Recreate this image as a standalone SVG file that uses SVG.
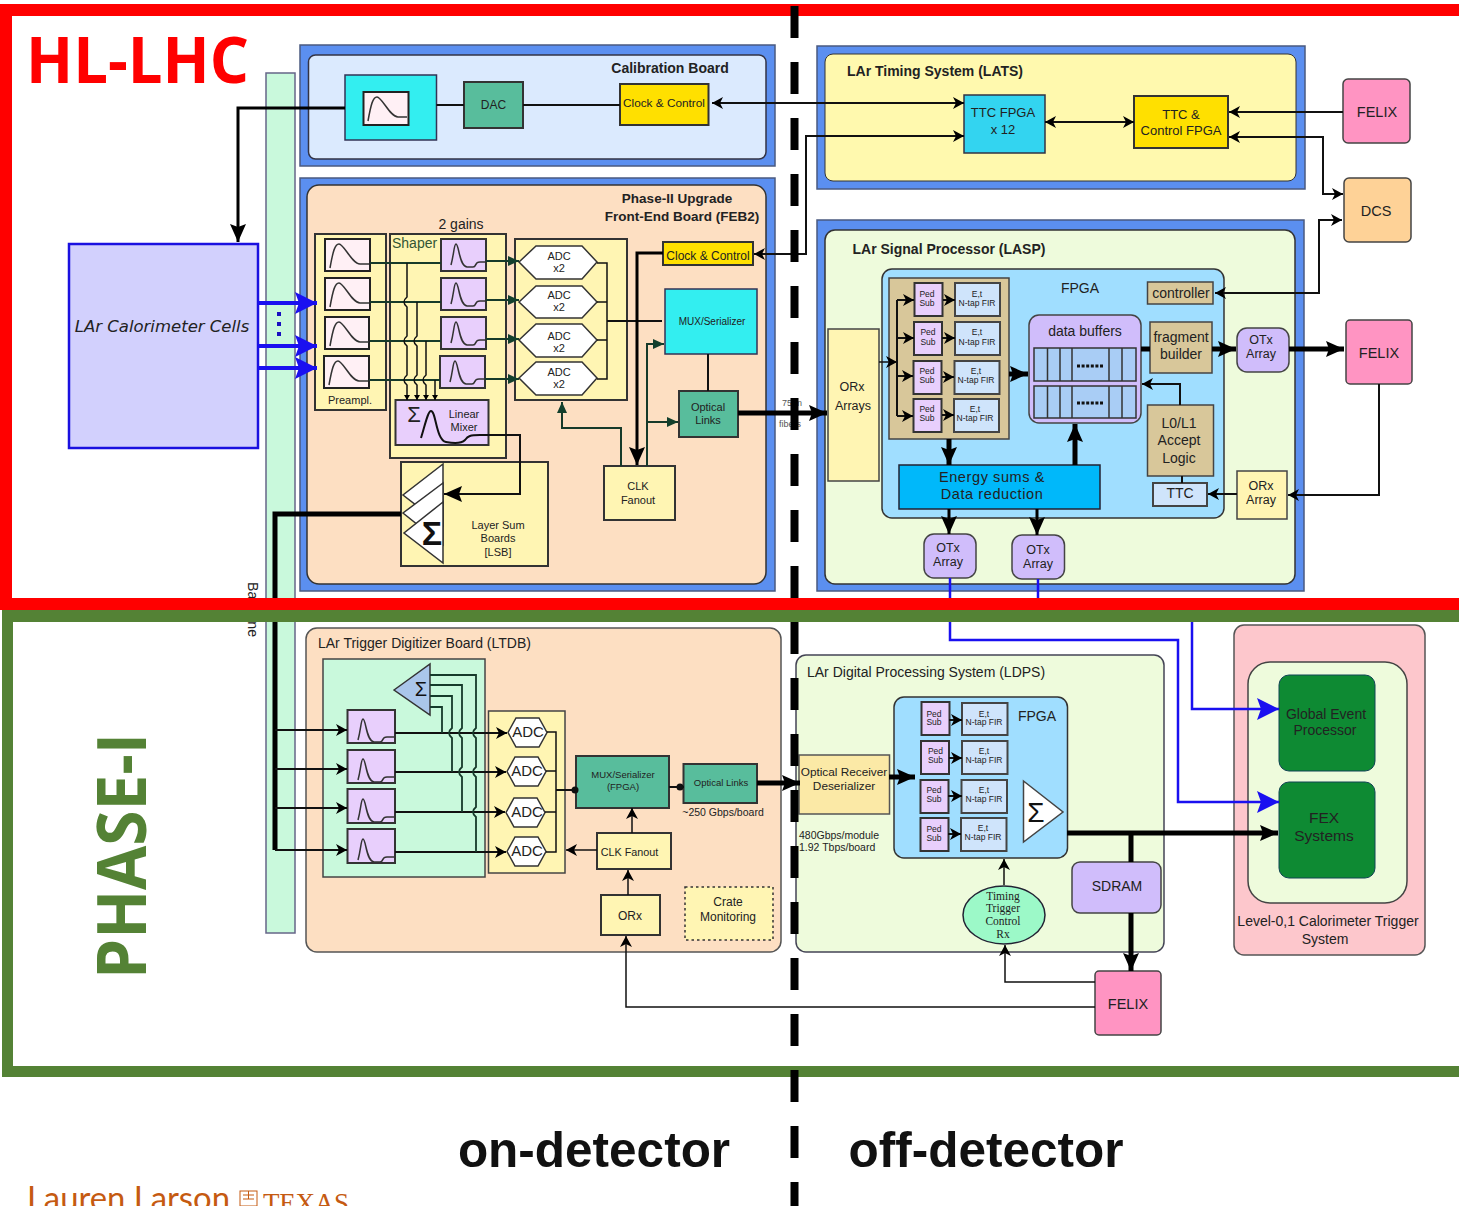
<svg xmlns="http://www.w3.org/2000/svg" width="1459" height="1206" viewBox="0 0 1459 1206">
<style>
text{font-family:"Liberation Sans",Arial,sans-serif;fill:#222;text-anchor:middle}
.l{text-anchor:start}
.b{font-weight:bold}
.box{stroke:#333;stroke-width:2}
.y{fill:#fff5b3}
.pk{fill:#fff0f5;stroke:#222;stroke-width:2}
.pu{fill:#e8cffc;stroke:#333;stroke-width:2}
.gn{fill:#58bd9c;stroke:#333;stroke-width:2}
.cy{fill:#33eef0;stroke:#335;stroke-width:1.5}
.go{fill:#ffe000;stroke:#333;stroke-width:2}
.hw{fill:#fff;stroke:#333;stroke-width:1.5}
.fe{fill:#ff94c2;stroke:#444;stroke-width:1.5}
.ot{fill:#d0bdfb;stroke:#444;stroke-width:1.5}
.tan{fill:#d8c79a;stroke:#444;stroke-width:1.5}
.ef{fill:#cfe4fb;stroke:#444;stroke-width:2}
.fp{fill:#a0deff;stroke:#333;stroke-width:1.5}
.bo{fill:#5b8ff0;stroke:#4a5a80;stroke-width:1.5}
.w{fill:none;stroke:#111;stroke-width:1.5}
.w2{fill:none;stroke:#111;stroke-width:2}
.t3{fill:none;stroke:#000;stroke-width:3}
.t5{fill:none;stroke:#000;stroke-width:5}
.gl{fill:none;stroke:#163a2a;stroke-width:1.8}
.bl{fill:none;stroke:#1a10f0}
.pulse{fill:none;stroke:#333;stroke-width:1.5}
.cell{fill:#a9cdf5;stroke:#333;stroke-width:1.5}
</style>
<defs>
<marker id="a" markerUnits="userSpaceOnUse" markerWidth="14" markerHeight="14" refX="11" refY="6" orient="auto-start-reverse"><path d="M0,0L11,6L0,12L3,6Z" fill="#000"/></marker>
<marker id="s" markerUnits="userSpaceOnUse" markerWidth="8" markerHeight="8" refX="5" refY="3" orient="auto"><path d="M0,0L5,3L0,6Z" fill="#000"/></marker>
<marker id="m" markerUnits="userSpaceOnUse" markerWidth="22" markerHeight="18" refX="18" refY="8" orient="auto-start-reverse"><path d="M0,0L18,8L0,16L3,8Z" fill="#000"/></marker>
<marker id="g" markerUnits="userSpaceOnUse" markerWidth="14" markerHeight="14" refX="11" refY="6" orient="auto"><path d="M0,1L11,6L0,11Z" fill="#123f2c"/></marker>
<marker id="bm" markerUnits="userSpaceOnUse" markerWidth="26" markerHeight="24" refX="22" refY="11" orient="auto"><path d="M0,0L22,11L0,22L4,11Z" fill="#1a10f0"/></marker>
<path id="pre" class="pulse" d="M5,28C8,11 10,4 14,4C19,4 27,24 35,24L44,24"/>
<path id="sh" class="pulse" d="M10,26C13,15 13,5 15,5C18,5 18,27 26,28L32,28C36,28 33,23 39,23L46,23"/>
</defs>

<rect id="backplane" x="266" y="73" width="29" height="860" fill="#c9f9dc" stroke="#668" stroke-width="1.5"/>
<text transform="translate(248,582) rotate(90)" class="l" font-size="14" textLength="55">Baseline</text>

<g id="calo"><rect x="69" y="244" width="189" height="204" fill="#d2d0fd" stroke="#1a10e0" stroke-width="2.5"/><text x="162" y="332" font-size="16.500" font-style="italic" style="font-family:'DejaVu Sans',sans-serif">LAr Calorimeter Cells</text></g>

<g id="calibration-board">
<rect class="bo" x="300" y="45" width="475" height="121"/>
<rect x="308.500" y="55" width="457.500" height="104" rx="7" fill="#dbeafe" stroke="#334" stroke-width="1.5"/>
<text x="670" y="73" font-size="14" class="b">Calibration Board</text>
<rect class="cy" x="345" y="75" width="91.500" height="65"/>
<rect class="pk" x="363.500" y="92" width="45" height="33"/><use href="#pre" x="363" y="93"/>
<rect class="gn" x="464" y="82" width="59" height="46"/><text x="493.500" y="109" font-size="12">DAC</text>
<rect class="go" x="620" y="84" width="88.500" height="41"/><text x="664" y="107" font-size="11.800">Clock &amp; Control</text>
</g>

<g id="feb2">
<rect class="bo" x="300" y="178" width="475" height="413"/>
<rect x="307" y="185" width="459" height="399" rx="12" fill="#fddfc2" stroke="#333" stroke-width="1.5"/>
<text x="677" y="203" font-size="13.500" class="b">Phase-II Upgrade</text>
<text x="682" y="221" font-size="13.500" class="b">Front-End Board (FEB2)</text>
<text x="461" y="229" font-size="14">2 gains</text>
<g id="preamp"><rect class="box y" x="315" y="234" width="71" height="176"/><text x="350" y="404" font-size="11" fill="#353">Preampl.</text>
<rect class="pk" x="325" y="239" width="45" height="32"/><use href="#pre" x="325" y="240"/>
<rect class="pk" x="325" y="278" width="45" height="32"/><use href="#pre" x="325" y="279"/>
<rect class="pk" x="325" y="317" width="44" height="32"/><use href="#pre" x="325" y="318"/>
<rect class="pk" x="324" y="356" width="45" height="32"/><use href="#pre" x="324" y="357"/></g>
<g id="shaper"><rect class="box y" x="390" y="234" width="116" height="224"/><text class="l" x="392" y="248" font-size="14" style="fill:#353">Shaper</text>
<rect class="pu" x="441" y="239" width="45" height="32"/><use href="#sh" x="441" y="239"/>
<rect class="pu" x="441" y="278" width="45" height="32"/><use href="#sh" x="441" y="278"/>
<rect class="pu" x="441" y="317" width="45" height="32"/><use href="#sh" x="441" y="317"/>
<rect class="pu" x="440" y="356" width="45" height="32"/><use href="#sh" x="440" y="356"/></g>
<g id="mixer"><rect class="pu" x="395.500" y="400" width="93" height="45"/><path class="w2" d="M421,438C425,425 428,411 431,411C436,411 436,440 446,442C456,444 462,443 465,440C468,436 470,435 480,435"/>
<text x="414" y="422" font-size="22" style="fill:#222">Σ</text><text x="464" y="418" font-size="11">Linear</text><text x="464" y="431" font-size="11">Mixer</text></g>
<g id="adcs"><rect class="box y" x="515" y="239" width="112" height="161"/>
<path class="hw" d="M519,262L536,246H582L597,262L582,279H536Z"/><text x="559" y="260" font-size="11">ADC</text><text x="559" y="272" font-size="11">x2</text>
<path class="hw" d="M519,302L536,286H582L597,302L582,318H536Z"/><text x="559" y="299" font-size="11">ADC</text><text x="559" y="311" font-size="11">x2</text>
<path class="hw" d="M519,340L536,324H582L597,340L582,357H536Z"/><text x="559" y="340" font-size="11">ADC</text><text x="559" y="352" font-size="11">x2</text>
<path class="hw" d="M519,378L536,362H582L597,378L582,395H536Z"/><text x="559" y="376" font-size="11">ADC</text><text x="559" y="388" font-size="11">x2</text></g>
<g id="lsb"><rect class="box y" x="401" y="462" width="147" height="104"/>
<path class="hw" d="M443,464L403,495L443,526Z"/><path class="hw" d="M443,483L403,513L443,545Z"/><path class="hw" d="M443,502L404,533L443,563Z"/>
<text x="432" y="545" font-size="34" class="b" style="fill:#111">Σ</text>
<text x="498" y="529" font-size="11">Layer Sum</text><text x="498" y="542" font-size="11">Boards</text><text x="498" y="556" font-size="11">[LSB]</text></g>
<g id="feb-clock"><rect class="go" x="663" y="242" width="90" height="23"/><text x="708" y="260" font-size="12">Clock &amp; Control</text></g>
<g id="feb-mux"><rect class="cy" x="665" y="289" width="92" height="65"/><text x="712" y="325" font-size="10">MUX/Serializer</text></g>
<g id="feb-optical"><rect class="gn" x="679" y="391" width="59" height="46"/><text x="708" y="411" font-size="11">Optical</text><text x="708" y="424" font-size="11">Links</text></g>
<g id="feb-clk"><rect class="box y" x="604" y="466" width="71" height="54"/><text x="638" y="490" font-size="11">CLK</text><text x="638" y="504" font-size="11">Fanout</text></g>
</g>

<g id="lats">
<rect class="bo" x="817" y="46" width="488" height="143"/>
<rect x="825" y="54" width="471" height="127" rx="8" fill="#fff9ae" stroke="#333" stroke-width="1"/>
<text x="935" y="76" font-size="14" class="b">LAr Timing System (LATS)</text>
<g id="ttc-fpga"><rect x="964" y="95" width="81" height="58" fill="#33d4f0" stroke="#334" stroke-width="1.500"/><text x="1003" y="117" font-size="13">TTC FPGA</text><text x="1003" y="134" font-size="13">x 12</text></g>
<g id="ttc-control"><rect class="go" x="1134" y="96" width="94" height="52"/><text x="1181" y="119" font-size="13">TTC &amp;</text><text x="1181" y="135" font-size="13">Control FPGA</text></g>
</g>

<g id="felix-top"><rect class="fe" x="1343" y="79" width="67" height="64" rx="5"/><text x="1377" y="117" font-size="14.500">FELIX</text></g>
<g id="dcs"><rect x="1344" y="178" width="67" height="64" rx="5" fill="#fed297" stroke="#444" stroke-width="1.500"/><text x="1376" y="216" font-size="14.500">DCS</text></g>

<g id="lasp">
<rect class="bo" x="817" y="220" width="487" height="371"/>
<rect x="825" y="230" width="470" height="354" rx="10" fill="#eefbdc" stroke="#333" stroke-width="1.5"/>
<text x="949" y="254" font-size="14" class="b">LAr Signal Processor (LASP)</text>
<g id="orx-arrays"><rect class="y" stroke="#444" stroke-width="1.5" x="828" y="329" width="51" height="152"/><text x="852" y="391" font-size="12.500">ORx</text><text x="853" y="410" font-size="12.500">Arrays</text></g>
<g id="lasp-fpga"><rect class="fp" x="882" y="269" width="342" height="249" rx="10"/><text x="1080" y="293" font-size="14">FPGA</text>
<rect class="tan" x="889" y="278" width="120" height="161"/>
<g font-size="8.500"><rect class="pu" x="914.500" y="283" width="28" height="33"/><text x="927" y="297">Ped</text><text x="927" y="306">Sub</text>
<rect class="ef" x="955" y="283" width="45" height="33"/><text x="977" y="297">E,t</text><text x="977" y="306">N-tap FIR</text>
<rect class="pu" x="914" y="322" width="28" height="33"/><text x="928" y="335">Ped</text><text x="928" y="345">Sub</text>
<rect class="ef" x="955" y="322" width="45" height="33"/><text x="977" y="335">E,t</text><text x="977" y="345">N-tap FIR</text>
<rect class="pu" x="913.500" y="361" width="28" height="33"/><text x="927" y="374">Ped</text><text x="927" y="383">Sub</text>
<rect class="ef" x="954.500" y="361" width="45" height="33"/><text x="976" y="374">E,t</text><text x="976" y="383">N-tap FIR</text>
<rect class="pu" x="913.500" y="399" width="28" height="33"/><text x="927" y="412">Ped</text><text x="927" y="421">Sub</text>
<rect class="ef" x="954" y="399" width="45" height="33"/><text x="975" y="412">E,t</text><text x="975" y="421">N-tap FIR</text></g>
<rect class="tan" x="1147.500" y="282" width="65.500" height="22"/><text x="1181" y="298" font-size="14">controller</text>
<g id="data-buffers"><rect class="ot" x="1029" y="315" width="112" height="108" rx="10"/><text x="1085" y="336" font-size="14">data buffers</text>
<path class="cell" d="M1034,348H1136V381H1034ZM1047.500,348V381M1060,348V381M1072,348V381M1109,348V381M1122,348V381"/>
<path class="cell" d="M1034,386H1136V418H1034ZM1047.500,386V418M1060,386V418M1072,386V418M1109,386V418M1122,386V418"/>
<path d="M1077,366H1104M1077,403H1104" stroke="#111" stroke-width="3" stroke-dasharray="3 1.600"/></g>
<g id="fragment"><rect class="tan" x="1150" y="322" width="62" height="51"/><text x="1181" y="342" font-size="14">fragment</text><text x="1181" y="359" font-size="14">builder</text></g>
<g id="l0l1"><rect class="tan" x="1147.500" y="405" width="66" height="71"/><text x="1179" y="428" font-size="14">L0/L1</text><text x="1179" y="445" font-size="14">Accept</text><text x="1179" y="463" font-size="14">Logic</text></g>
<g id="ttc"><rect class="ef" x="1153" y="483" width="54" height="23" stroke-width="1.5"/><text x="1180" y="498" font-size="14">TTC</text></g>
<g id="energy"><rect x="899" y="465" width="201" height="44" fill="#00b8fa" stroke="#223" stroke-width="1.5"/><text x="992" y="482" font-size="14.500" style="letter-spacing:.6px">Energy sums &amp;</text><text x="992" y="499" font-size="14.500" style="letter-spacing:.6px">Data reduction</text></g>
</g>
<g id="otx-r"><rect class="ot" x="1237" y="328" width="52" height="44" rx="10"/><text x="1261" y="344" font-size="12.500">OTx</text><text x="1261" y="358" font-size="12.500">Array</text></g>
<g id="orx-r"><rect class="y" stroke="#444" stroke-width="1.5" x="1237" y="471" width="50" height="48"/><text x="1261" y="490" font-size="12.500">ORx</text><text x="1261" y="504" font-size="12.500">Array</text></g>
<g id="otx-a"><rect class="ot" x="924" y="534" width="52" height="44" rx="10"/><text x="948" y="552" font-size="12.500">OTx</text><text x="948" y="566" font-size="12.500">Array</text></g>
<g id="otx-b"><rect class="ot" x="1012" y="535" width="52.500" height="44" rx="10"/><text x="1038" y="554" font-size="12.500">OTx</text><text x="1038" y="568" font-size="12.500">Array</text></g>
</g>
<g id="felix-lasp"><rect class="fe" x="1346" y="320" width="66" height="64" rx="4"/><text x="1379" y="358" font-size="14.500">FELIX</text></g>

<g id="ltdb">
<rect x="306" y="628" width="475" height="324" rx="11" fill="#fddfc2" stroke="#555" stroke-width="1.5"/>
<text class="l" x="318" y="648" font-size="14">LAr Trigger Digitizer Board (LTDB)</text>
<rect x="323" y="659" width="162" height="218" fill="#c9f9dc" stroke="#444" stroke-width="1.5"/>
<g id="ltdb-sum"><path d="M394,690L430,664V715Z" fill="#aac6ea" stroke="#333" stroke-width="1.5"/><text x="421" y="696" font-size="20" style="fill:#111">Σ</text></g>
<rect class="pu" x="347.500" y="710" width="47.500" height="33"/><use href="#sh" x="348" y="714"/>
<rect class="pu" x="347.500" y="750" width="47.500" height="33"/><use href="#sh" x="348" y="754"/>
<rect class="pu" x="347.500" y="789" width="47.500" height="34"/><use href="#sh" x="348" y="794"/>
<rect class="pu" x="347.500" y="829" width="47.500" height="34"/><use href="#sh" x="348" y="834"/>
<rect class="y" stroke="#444" stroke-width="1.5" x="488.500" y="711" width="76.500" height="162"/>
<g font-size="15"><path class="hw" d="M508,732.500L516,718H539L547,732.500L539,747H516Z"/><text x="528" y="737">ADC</text>
<path class="hw" d="M507,771.500L515,757H538L546,771.500L538,786H515Z"/><text x="527" y="776">ADC</text>
<path class="hw" d="M506,812.500L514,798H537L545,812.500L537,827H514Z"/><text x="527" y="817">ADC</text>
<path class="hw" d="M507,851.500L515,837H538L546,851.500L538,866H515Z"/><text x="527" y="856">ADC</text></g>
<g id="ltdb-mux"><rect class="gn" x="576" y="756" width="93" height="52"/><text x="623" y="778" font-size="9.500">MUX/Serializer</text><text x="623" y="790" font-size="9.500">(FPGA)</text></g>
<g id="ltdb-opt"><rect class="gn" x="683.500" y="764" width="73.500" height="39"/><text x="721" y="786" font-size="9.500">Optical Links</text></g>
<text x="723" y="816" font-size="10.500">~250 Gbps/board</text>
<g id="ltdb-clk"><rect class="y" stroke="#333" stroke-width="2" x="597" y="833" width="74" height="36"/><text x="629.500" y="856" font-size="10.800">CLK Fanout</text></g>
<g id="ltdb-orx"><rect class="y" stroke="#333" stroke-width="2" x="601" y="895" width="59" height="40"/><text x="630" y="920" font-size="12">ORx</text></g>
<g id="crate"><rect class="y" stroke="#333" stroke-width="1.5" stroke-dasharray="2.500 3" x="685" y="887" width="88" height="53"/><text x="728" y="906" font-size="12">Crate</text><text x="728" y="921" font-size="12">Monitoring</text></g>
</g>

<g id="ldps">
<rect x="796" y="655" width="368" height="297" rx="10" fill="#eefbdc" stroke="#445" stroke-width="1.5"/>
<text class="l" x="807" y="677" font-size="14">LAr Digital Processing System (LDPS)</text>
<g id="ldps-fpga"><rect class="fp" x="894" y="697" width="173.500" height="161" rx="10"/><text x="1037" y="721" font-size="14">FPGA</text>
<g font-size="8.500"><rect class="pu" x="921.500" y="702" width="28" height="33"/><text x="934" y="717">Ped</text><text x="934" y="725">Sub</text>
<rect class="ef" x="962" y="703" width="45.500" height="32"/><text x="984" y="717">E,t</text><text x="984" y="725">N-tap FIR</text>
<rect class="pu" x="921" y="741" width="28" height="33"/><text x="935.500" y="754">Ped</text><text x="935.500" y="763">Sub</text>
<rect class="ef" x="962" y="741" width="45.500" height="33"/><text x="984" y="754">E,t</text><text x="984" y="763">N-tap FIR</text>
<rect class="pu" x="920.500" y="780" width="28" height="33"/><text x="934" y="793">Ped</text><text x="934" y="802">Sub</text>
<rect class="ef" x="961.500" y="780" width="45.500" height="33"/><text x="984" y="793">E,t</text><text x="984" y="802">N-tap FIR</text>
<rect class="pu" x="920.500" y="818" width="28" height="33"/><text x="934" y="832">Ped</text><text x="934" y="841">Sub</text>
<rect class="ef" x="961" y="818" width="45.500" height="33"/><text x="983" y="831">E,t</text><text x="983" y="840">N-tap FIR</text></g>
<path d="M1023.500,781L1063,812L1023.500,842Z" fill="#fff" stroke="#444" stroke-width="1.500"/><text x="1036" y="822" font-size="28" style="fill:#111">Σ</text></g>
<g id="ldps-optical"><rect class="y" stroke="#555" stroke-width="1.5" x="799" y="755" width="90.500" height="59" style="fill:#fbe9a6"/><text x="844" y="776" font-size="11.800">Optical Receiver</text><text x="844" y="790" font-size="11.800">Deserializer</text></g>
<text class="l" x="799" y="839" font-size="10.500">480Gbps/module</text><text class="l" x="799" y="851" font-size="10.500">1.92 Tbps/board</text>
<g id="timing"><ellipse cx="1004" cy="915" rx="41" ry="29" fill="#9cf9c8" stroke="#223" stroke-width="1.500"/>
<g font-size="11.500"><text x="1003" y="900" style="font-family:'Liberation Serif',serif">Timing</text><text x="1003" y="912" style="font-family:'Liberation Serif',serif">Trigger</text><text x="1003" y="925" style="font-family:'Liberation Serif',serif">Control</text><text x="1003" y="938" style="font-family:'Liberation Serif',serif">Rx</text></g></g>
<g id="sdram"><rect class="ot" x="1072" y="862" width="89" height="51" rx="8"/><text x="1117" y="891" font-size="14">SDRAM</text></g>
</g>
<g id="felix-ldps"><rect class="fe" x="1095" y="971" width="66" height="64" rx="4"/><text x="1128" y="1009" font-size="14.500">FELIX</text></g>

<g id="trigger">
<rect x="1234" y="625" width="191" height="330" rx="10" fill="#fdc7cc" stroke="#555" stroke-width="1.5"/>
<rect x="1248" y="662" width="159" height="241" rx="22" fill="#eefbdc" stroke="#444" stroke-width="1.5"/>
<g id="global"><rect x="1279" y="675" width="96" height="96" rx="10" fill="#0e8a33" stroke="#145" stroke-width="1"/><text x="1326" y="719" font-size="14">Global Event</text><text x="1325" y="735" font-size="14">Processor</text></g>
<g id="fex"><rect x="1279" y="782" width="96" height="96" rx="10" fill="#0e8a33" stroke="#145" stroke-width="1"/><text x="1324" y="823" font-size="15.500">FEX</text><text x="1324" y="841" font-size="15.500">Systems</text></g>
<text x="1328" y="926" font-size="14">Level-0,1 Calorimeter Trigger</text><text x="1325" y="944" font-size="14">System</text>
</g>

<g id="connectors">
<path class="t3" d="M345,108H238V242" marker-end="url(#m)"/>
<path class="w2" d="M436.500,105H464M523,105H620"/>
<path class="w2" d="M964,103H712" marker-start="url(#a)" marker-end="url(#a)"/>
<path class="w2" d="M754,254H806V136H964" marker-start="url(#a)" marker-end="url(#a)"/>
<path class="w2" d="M1045,122H1134" marker-start="url(#a)" marker-end="url(#a)"/>
<path class="w2" d="M1343,112H1229" marker-end="url(#a)"/>
<path class="w2" d="M1229,137H1323V194H1343" marker-start="url(#a)" marker-end="url(#a)"/>
<path class="w2" d="M1215,293H1319V220H1342" marker-start="url(#a)" marker-end="url(#a)"/>
<path class="bl" stroke-width="4" d="M258,303H317" marker-end="url(#bm)"/><path class="bl" stroke-width="4" d="M258,346H317" marker-end="url(#bm)"/><path class="bl" stroke-width="4" d="M258,368H317" marker-end="url(#bm)"/>
<path d="M277,312h4v4h-4zM277,322h4v4h-4zM277,332h4v4h-4z" fill="#1a10c0"/>
<g id="feb-wires">
<path class="gl" d="M370,263H441M486,261H519" marker-end="url(#g)"/>
<path class="gl" d="M370,302H441M486,300H519" marker-end="url(#g)"/>
<path class="gl" d="M370,341H441M486,339H519" marker-end="url(#g)"/>
<path class="gl" d="M369,380H440M485,379H519" marker-end="url(#g)"/>
<path class="w" d="M407,263V297Q401,302 407,307V336Q401,341 407,346V375Q401,380 407,385V400" marker-end="url(#s)"/>
<path class="w" d="M417,302V336Q411,341 417,346V375Q411,380 417,385V400" marker-end="url(#s)"/>
<path class="w" d="M426,341V375Q420,380 426,385V400" marker-end="url(#s)"/>
<path class="w" d="M435,380V400" marker-end="url(#s)"/>
<path class="w" d="M597,263H607V379H597M597,302H607M597,340H607"/>
<path class="w2" d="M607,321H662"/>
<path class="w2" d="M480,435H520V494H444" marker-end="url(#m)"/>
<path class="t3" d="M663,253H637V465" marker-end="url(#m)"/>
<path class="gl" d="M621,466V428H562V402" marker-end="url(#g)" style="stroke-width:2"/>
<path class="gl" d="M647,466V344H664" marker-end="url(#g)" style="stroke-width:2"/>
<path class="gl" d="M647,422H678" marker-end="url(#g)" style="stroke-width:2"/>
<path class="w2" d="M708,354V391"/>
<path class="t5" d="M738,413H827" marker-end="url(#m)"/>
<path class="t5" d="M401,514H275V850"/>
</g>
<text x="792" y="406" font-size="9" style="fill:#555">75 m</text><text x="790" y="427" font-size="9" style="fill:#555">fibers</text>
<g id="lasp-wires">
<path class="w" d="M879,362H897" marker-end="url(#a)"/>
<path class="w2" d="M897,300V416"/>
<path class="w2" d="M897,300H914" marker-end="url(#a)"/><path class="w2" d="M897,338H914" marker-end="url(#a)"/><path class="w2" d="M897,376H913" marker-end="url(#a)"/><path class="w2" d="M897,416H913" marker-end="url(#a)"/>
<path class="w2" d="M943,300H955" marker-end="url(#a)"/><path class="w2" d="M942,338H955" marker-end="url(#a)"/><path class="w2" d="M942,377H954" marker-end="url(#a)"/><path class="w2" d="M942,415H954" marker-end="url(#a)"/>
<path class="t5" d="M1009,374H1028" marker-end="url(#m)"/>
<path class="t5" d="M949,439V465" marker-end="url(#m)"/>
<path class="t5" d="M1075,465V424" marker-end="url(#m)"/>
<path class="t3" d="M949,509V534" marker-end="url(#m)"/>
<path class="t3" d="M1037,509V535" marker-end="url(#m)"/>
<path class="t5" d="M1141,349H1150M1212,349H1236" marker-end="url(#m)"/>
<path class="t5" d="M1289,349H1344" marker-end="url(#m)"/>
<path class="w2" d="M1180,405V384H1142" marker-end="url(#a)"/>
<path class="w2" d="M1182,476V483"/>
<path class="w2" d="M1237,494H1208" marker-end="url(#a)"/>
<path class="w2" d="M1379,384V495H1288" marker-end="url(#a)"/>
</g>
<g id="ltdb-wires">
<path class="w2" d="M275,730H347" marker-end="url(#a)"/><path class="w2" d="M275,769H347" marker-end="url(#a)"/><path class="w2" d="M275,808H347" marker-end="url(#a)"/><path class="w2" d="M275,850H347" marker-end="url(#a)"/>
<path class="w2" d="M395,733H507" marker-end="url(#a)"/><path class="w2" d="M395,772H506" marker-end="url(#a)"/><path class="w2" d="M395,812H505" marker-end="url(#a)"/><path class="w2" d="M395,852H506" marker-end="url(#a)"/>
<path class="gl" d="M430,675H476V728Q470,733 476,738V767Q470,772 476,777V807Q470,812 476,817V852"/>
<path class="gl" d="M430,685H462V728Q456,733 462,738V767Q456,772 462,777V812"/>
<path class="gl" d="M430,696H452V728Q446,733 452,738V772"/>
<path class="gl" d="M430,707H442V733"/>
<path class="w" d="M547,732H556V852H546M546,771H556M545,812H556"/>
<path class="w2" d="M556,790H576M669,787H684"/>
<circle cx="575" cy="790" r="3.500" fill="#111"/><circle cx="680" cy="787" r="3.500" fill="#111"/>
<path class="t5" d="M757,783H800" marker-end="url(#m)"/>
<path class="w" d="M632,833V808" marker-end="url(#a)"/>
<path class="w" d="M597,850H566" marker-end="url(#a)"/>
<path class="w" d="M628,895V870" marker-end="url(#a)"/>
<path class="w" d="M1095,1007H626V936" marker-end="url(#a)"/>
</g>
<g id="ldps-wires">
<path class="w2" d="M949,720H962" marker-end="url(#a)"/><path class="w2" d="M949,758H962" marker-end="url(#a)"/><path class="w2" d="M948,796H962" marker-end="url(#a)"/><path class="w2" d="M948,834H961" marker-end="url(#a)"/>
<path class="t5" d="M889,777H915" marker-end="url(#m)"/>
<path class="w" d="M1004,885V859" marker-end="url(#a)"/>
<path class="w" d="M1095,982H1005V945" marker-end="url(#a)"/>
<path class="t5" d="M1067,833H1278" marker-end="url(#m)"/>
<path class="t5" d="M1131,833V862M1131,913V971" marker-end="url(#m)"/>
<path class="bl" stroke-width="2.500" d="M950,578V640H1178V802H1279" marker-end="url(#bm)"/>
<path class="bl" stroke-width="2.500" d="M1192,622V709H1279" marker-end="url(#bm)"/>
<path class="bl" stroke-width="2.500" d="M1038,579V600"/>
</g>
</g>

<g id="frames">
<path d="M0,4H1459V16H12V598H1459V610H0Z" fill="#ff0000"/>
<path d="M2,610H1459V622H13V1066H1459V1077H2Z" fill="#548235"/>
</g>
<text class="l b" x="26" y="83" font-size="64" textLength="223" lengthAdjust="spacingAndGlyphs" style="font-family:'Open Sans',sans-serif;fill:#ff0000">HL-LHC</text>
<text class="l b" transform="translate(146,979) rotate(-90)" font-size="68" textLength="246" lengthAdjust="spacingAndGlyphs" style="font-family:'Open Sans',sans-serif;fill:#548235">PHASE-I</text>
<path id="divider" d="M794.500,6V1206" fill="none" stroke="#000" stroke-width="8" stroke-dasharray="32 24"/>
<text x="594" y="1167" font-size="49.500" class="b" style="fill:#111">on-detector</text>
<text x="986" y="1167" font-size="49.500" class="b" style="fill:#111">off-detector</text>
<text class="l" x="27" y="1210" font-size="33" textLength="203" lengthAdjust="spacingAndGlyphs" style="font-family:Lato,sans-serif;fill:#c55a11">Lauren Larson</text>
<g id="seal" fill="none" stroke="#c55a11" stroke-width="1"><rect x="240" y="1191" width="17" height="15"/><path d="M243,1195H254M243,1199H254M248.500,1191V1199"/></g>
<text class="l" x="263" y="1212" font-size="27" textLength="86" style="font-family:'Liberation Serif',serif;fill:#c55a11">TEXAS</text>
</svg>
